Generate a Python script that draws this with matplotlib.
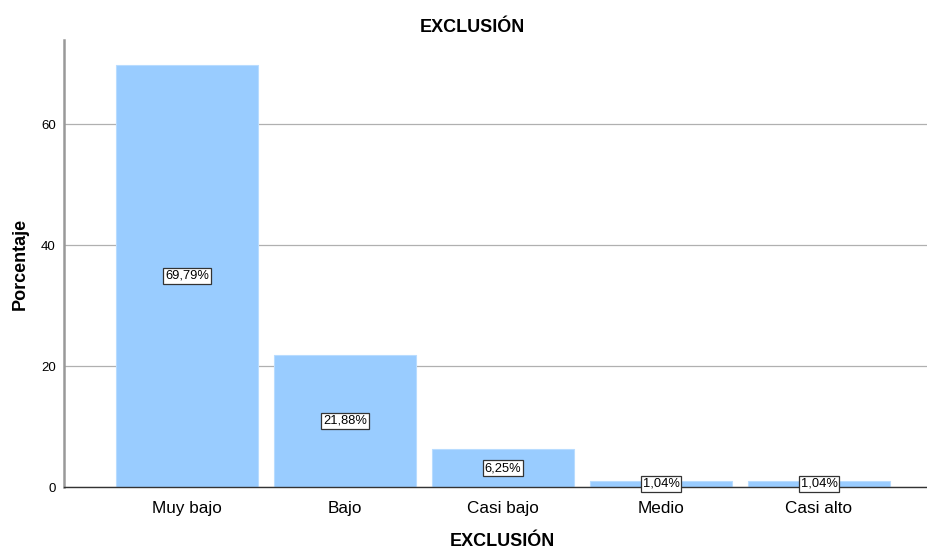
import matplotlib
matplotlib.use("Agg")
import matplotlib.pyplot as plt

categories = ["Muy bajo", "Bajo", "Casi bajo", "Medio", "Casi alto"]
values = [69.79, 21.88, 6.25, 1.04, 1.04]
labels = ["69,79%", "21,88%", "6,25%", "1,04%", "1,04%"]
yticks = [0, 20, 40, 60]

plt.rcParams['font.family'] = ['Liberation Sans', 'DejaVu Sans']

fig = plt.figure(figsize=(9.28, 5.49), dpi=100)
ax = fig.add_axes([64/928, 62/549, 1 - 64/928, (487-40)/549])

x = list(range(len(categories)))
ax.bar(x, values, width=0.9, color="#99CCFF", edgecolor="#B8DCFF", linewidth=0.8, zorder=2)
ax.set_xlim(-0.778, 4.69)
ax.set_ylim(0, 73.9)
ax.set_yticks(yticks)
ax.set_yticklabels([str(t) for t in yticks], fontsize=9.5)
ax.set_xticks(x)
ax.set_xticklabels(categories, fontsize=12.3)
ax.tick_params(axis='y', length=0, pad=6)
ax.tick_params(axis='x', length=0, pad=10)
ax.grid(axis='y', color="#B0B0B0", linewidth=0.9, zorder=1)
for s in ["top", "right"]:
    ax.spines[s].set_visible(False)
ax.spines["left"].set_color("#999999")
ax.spines["left"].set_linewidth(1.8)
ax.spines["bottom"].set_color("#333333")
ax.spines["bottom"].set_linewidth(1.0)
ax.spines["bottom"].set_zorder(3)

for xi, v, lab in zip(x, values, labels):
    ax.text(xi, v / 2, lab, ha='center', va='center', fontsize=9.3, zorder=4,
            bbox=dict(boxstyle='square,pad=0.15', facecolor='white', edgecolor='#333333', linewidth=0.9))

fig.text(472/928, 1 - 27/549, "EXCLUSIÓN", ha='center', va='center',
         fontsize=13, fontweight='bold')
fig.text(502/928, 1 - 541/549, "EXCLUSIÓN", ha='center', va='center',
         fontsize=13, fontweight='bold')
fig.text(20/928, 1 - 264/549, "Porcentaje", ha='center', va='center', rotation=90,
         fontsize=13, fontweight='bold')

fig.savefig("out.png", dpi=100, facecolor='white')
